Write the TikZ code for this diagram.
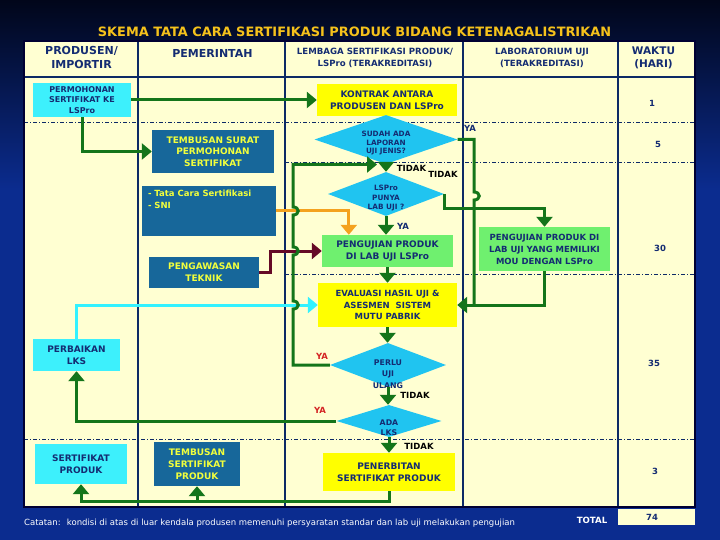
\documentclass[tikz,border=0pt]{standalone}
\usepackage{fontspec}
\setmainfont{DejaVu Sans}
\usepackage{tikz}
\usetikzlibrary{arrows.meta,positioning,calc,shapes.geometric}
\definecolor{bgdark}{HTML}{01061A}
\definecolor{bgblue}{HTML}{0B2C8F}
\definecolor{cream}{HTML}{FFFFD2}
\definecolor{navytxt}{HTML}{142C72}
\definecolor{gridnavy}{HTML}{0D2A66}
\definecolor{titlegold}{HTML}{F5C21B}
\definecolor{boxcyan}{HTML}{3DF0FC}
\definecolor{diacyan}{HTML}{20C4F0}
\definecolor{boxteal}{HTML}{17679A}
\definecolor{texyellow}{HTML}{F2FF3C}
\definecolor{boxyellow}{HTML}{FFFF00}
\definecolor{boxgreen}{HTML}{6FF06F}
\definecolor{flowgreen}{HTML}{14751A}
\definecolor{floworange}{HTML}{F4A21E}
\definecolor{flowmaroon}{HTML}{650A26}
\definecolor{flowcyan}{HTML}{33F2FF}
\definecolor{yared}{HTML}{D42424}
\newcommand{\fs}[2]{\fontsize{#1}{#2}\selectfont}
\newcommand{\dtxt}[2]{\smash{\raisebox{-#1}{\begin{tabular}{@{}c@{}}#2\end{tabular}}}}
\tikzset{
  sz/.style 2 args={font=\bfseries\fs{#1}{#2}},
  gridline/.style={draw=gridnavy, line width=1.5pt},
  rowline/.style={draw=gridnavy, line width=0.8pt, dash pattern=on 4pt off 2pt on 1pt off 2pt},
  hdrtext/.style={text=navytxt, align=center, inner sep=0pt},
  cyanbox/.style={fill=boxcyan, text=navytxt, align=center, inner sep=0pt},
  tealbox/.style={fill=boxteal, text=texyellow, align=center, inner sep=0pt},
  yellowbox/.style={fill=boxyellow, text=navytxt, align=center, inner sep=0pt},
  greenbox/.style={fill=boxgreen, text=navytxt, align=center, inner sep=0pt},
  decision/.style={diamond, fill=diacyan, text=navytxt, inner sep=0pt},
  tip/.style={-{Triangle[length=10pt,width=16pt]}},
  flow/.style={draw=flowgreen, line width=3pt, tip},
  flowline/.style={draw=flowgreen, line width=3pt},
  tidak/.style={text=black, inner sep=0pt, sz={8.5}{10}},
  yanavy/.style={text=navytxt, inner sep=0pt, sz={8.5}{10}},
  yaredlbl/.style={text=yared, inner sep=0pt, sz={8.5}{10}},
  hari/.style={text=navytxt, inner sep=0pt, sz={8.5}{10}}
}

\begin{document}
\begin{tikzpicture}[x=1pt,y=-1pt]
\useasboundingbox (0,0) rectangle (720,540);
% background of the slide
\shade[top color=bgdark, bottom color=bgblue] (0,0) rectangle (720,190);
\fill[bgblue] (0,190) rectangle (720,540);
\node[text=titlegold, sz={12.9}{15}] (title) at (354.5,31.5) {SKEMA TATA CARA SERTIFIKASI PRODUK BIDANG KETENAGALISTRIKAN};

% table
\fill[cream] (24,41) rectangle (695,507);
\draw[rowline] (24,122) -- (695,122);
\draw[rowline] (285,162) -- (695,162);
\draw[rowline] (285,274) -- (695,274);
\draw[rowline] (24,439) -- (695,439);
\draw[gridline] (24,77) -- (695,77);
\foreach \x in {138,285,463,618}
  \draw[gridline] (\x,41) -- (\x,507);
\draw[line width=2.5pt, black!80!blue] (24,41) rectangle (695,507);
\fill[cream] (618,508.5) rectangle (695,525);

% column heads
\node[hdrtext, sz={11}{14}] (hprod) at (81.5,57.5) {PRODUSEN/\\IMPORTIR};
\node[hdrtext, sz={11}{14}] (hpem) at (212.5,53) {PEMERINTAH};
\node[hdrtext, sz={8.6}{11.5}] (hlspro) at (375,58) {LEMBAGA SERTIFIKASI PRODUK/\\LSPro (TERAKREDITASI)};
\node[hdrtext, sz={8.6}{11.5}] (hlab) at (542,58) {LABORATORIUM UJI\\(TERAKREDITASI)};
\node[hdrtext, sz={10.5}{13.5}] (hwaktu) at (653.5,58) {WAKTU\\(HARI)};

% days
\node[hari] (t1) at (652,103) {1};
\node[hari] (t5) at (658,144) {5};
\node[hari] (t30) at (660,248) {30};
\node[hari] (t35) at (654,363) {35};
\node[hari] (t3) at (655,471) {3};
\node[hari] (t74) at (652,517) {74};
\node[text=white, inner sep=0pt, sz={8.6}{10}] (total) at (592,520) {TOTAL};

% steps
\node[cyanbox, minimum width=98pt, minimum height=34pt, sz={8}{10.5}] (permohonan) at (82,100) {PERMOHONAN\\SERTIFIKAT KE\\LSPro};
\node[yellowbox, minimum width=140pt, minimum height=32pt, sz={9}{12}] (kontrak) at (387,100) {KONTRAK ANTARA\\PRODUSEN DAN LSPro};
\node[tealbox, minimum width=122pt, minimum height=43pt, sz={9}{11.5}] (tembusan) at (213,151.5) {TEMBUSAN SURAT\\PERMOHONAN\\SERTIFIKAT};
\node[tealbox, minimum width=134pt, minimum height=50pt, sz={8.5}{12}] (tatacara) at (209,211) {\parbox[c][42pt][t]{122pt}{- Tata Cara Sertifikasi\\- SNI}};
\node[tealbox, minimum width=110pt, minimum height=31pt, sz={9}{12}] (pengawasan) at (204,272.5) {PENGAWASAN\\TEKNIK};
\node[decision, minimum width=143pt, minimum height=43pt, sz={7.3}{8.5}] (sudah) at (386,139.5) {\dtxt{6pt}{SUDAH ADA\\LAPORAN\\UJI JENIS?}};
\node[decision, minimum width=116pt, minimum height=44pt, sz={7.3}{9.5}] (lspro) at (386,194) {\dtxt{6pt}{LSPro\\PUNYA\\LAB UJI ?}};
\node[greenbox, minimum width=131pt, minimum height=32pt, sz={9}{12}] (ujilspro) at (387.5,251) {PENGUJIAN PRODUK\\DI LAB UJI LSPro};
\node[greenbox, minimum width=131pt, minimum height=44pt, sz={8.5}{12}] (ujimou) at (544.5,249) {PENGUJIAN PRODUK DI\\LAB UJI YANG MEMILIKI\\MOU DENGAN LSPro};
\node[yellowbox, minimum width=139pt, minimum height=44pt, sz={8.5}{11.5}] (evaluasi) at (387.5,305) {EVALUASI HASIL UJI \&\\ASESMEN~ SISTEM\\MUTU PABRIK};
\node[cyanbox, minimum width=87pt, minimum height=32pt, sz={9}{12}] (perbaikan) at (76.5,355) {PERBAIKAN\\LKS};
\node[decision, minimum width=116pt, minimum height=44pt, sz={7.8}{11.5}] (perlu) at (388,365) {\dtxt{11.5pt}{PERLU\\UJI\\ULANG}};
\node[decision, minimum width=105pt, minimum height=32pt, sz={7.8}{10}] (adalks) at (389,421) {\dtxt{9pt}{ADA\\LKS}};
\node[yellowbox, minimum width=132pt, minimum height=38pt, sz={9}{12}] (penerbitan) at (389,472) {PENERBITAN\\SERTIFIKAT PRODUK};
\node[cyanbox, minimum width=92pt, minimum height=40pt, sz={9}{12}] (sertifikat) at (81,464) {SERTIFIKAT\\PRODUK};
\node[tealbox, minimum width=86pt, minimum height=44pt, sz={9}{12}] (tembusan2) at (197,464) {TEMBUSAN\\SERTIFIKAT\\PRODUK};

% connectors
\draw[flow] (permohonan.east) -- (permohonan.east -| kontrak.west);
\draw[flow] (permohonan.south) |- (tembusan.west);
\draw[draw=floworange, line width=3pt, tip] (tatacara.east) -| ($(ujilspro.north west)+(27,0)$);
\draw[draw=flowmaroon, line width=3pt, tip] (pengawasan.east) -- ++(11,0) |- (ujilspro.west);
\draw[draw=flowcyan, line width=3pt, tip] (perbaikan.north) |- (evaluasi.west);
\draw[flow] (sudah.south) -- (sudah.south |- lspro.north);
\draw[flow] (lspro.south) -- (lspro.south |- ujilspro.north);
\draw[flow] (lspro.east) -- ++(0,15) -| (ujimou.north);
\coordinate (railR) at (474,139.5);
\draw[flowline] (sudah.east) -- (railR) -- (474,192) .. controls (481,192) and (481,200) .. (474,200) -- (railR |- evaluasi.east);
\draw[flow] (ujimou.south) |- (evaluasi.east);
\draw[flow] (ujilspro.south) -- (ujilspro.south |- evaluasi.north);
\draw[flow] (evaluasi.south) -- (evaluasi.south |- perlu.north);
\coordinate (loopend) at (377,164.5);
\draw[flow] (perlu.west) -- (293,365) -- (293,309) .. controls (300,309) and (300,301) .. (293,301)
  -- (293,255) .. controls (300,255) and (300,247) .. (293,247)
  -- (293,215) .. controls (300,215) and (300,207) .. (293,207) -- (293,164.5) -- (loopend);
\draw[flow] (perlu.south) -- (perlu.south |- adalks.north);
\draw[flow] (adalks.west) -| (perbaikan.south);
\draw[flow] (adalks.south) -- (adalks.south |- penerbitan.north);
\coordinate (bus) at ($(penerbitan.south)+(0,10)$);
\draw[flow] (penerbitan.south) -- (bus) -| (sertifikat.south);
\draw[flow] (bus -| tembusan2.south) -- (tembusan2.south);

% answers
\node[tidak] (tidak1) at (411.5,168.5) {TIDAK};
\node[tidak] (tidak2) at (443,174) {TIDAK};
\node[tidak] (tidak3) at (415,395.5) {TIDAK};
\node[tidak] (tidak4) at (419,446.5) {TIDAK};
\node[yanavy] (ya1) at (470,128.5) {YA};
\node[yanavy] (ya2) at (403,226) {YA};
\node[yaredlbl] (ya3) at (322,356) {YA};
\node[yaredlbl] (ya4) at (320,410.5) {YA};

\node[anchor=west, text=white, inner sep=0pt, font=\fs{8.5}{10}] (catatan) at (24,523) {Catatan:~ kondisi di atas di luar kendala produsen memenuhi persyaratan standar dan lab uji melakukan pengujian};
\end{tikzpicture}
\end{document}
